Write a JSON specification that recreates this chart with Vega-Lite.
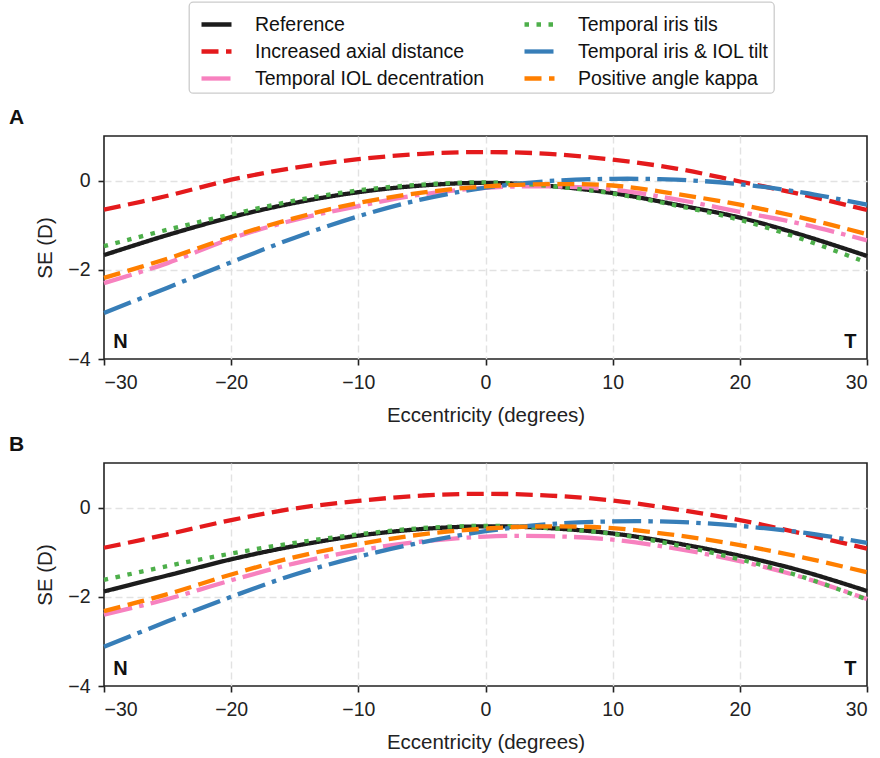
{
  "$schema": "https://vega.github.io/schema/vega-lite/v6.json",
  "background": "white",
  "padding": {"left": 8, "top": 1, "right": 12, "bottom": 5},
  "datasets": {
    "curves": [
      {"panel":"A","series":"Reference","x":-30,"y":-1.67},{"panel":"A","series":"Reference","x":-25,"y":-1.22},{"panel":"A","series":"Reference","x":-20,"y":-0.82},{"panel":"A","series":"Reference","x":-15,"y":-0.5},{"panel":"A","series":"Reference","x":-10,"y":-0.26},{"panel":"A","series":"Reference","x":-5,"y":-0.11},{"panel":"A","series":"Reference","x":0,"y":-0.05},{"panel":"A","series":"Reference","x":5,"y":-0.12},{"panel":"A","series":"Reference","x":10,"y":-0.28},{"panel":"A","series":"Reference","x":15,"y":-0.54},{"panel":"A","series":"Reference","x":20,"y":-0.83},{"panel":"A","series":"Reference","x":25,"y":-1.23},{"panel":"A","series":"Reference","x":30,"y":-1.69},
      {"panel":"A","series":"Increased axial distance","x":-30,"y":-0.65},{"panel":"A","series":"Increased axial distance","x":-25,"y":-0.34},{"panel":"A","series":"Increased axial distance","x":-20,"y":0.02},{"panel":"A","series":"Increased axial distance","x":-15,"y":0.29},{"panel":"A","series":"Increased axial distance","x":-10,"y":0.48},{"panel":"A","series":"Increased axial distance","x":-5,"y":0.6},{"panel":"A","series":"Increased axial distance","x":0,"y":0.64},{"panel":"A","series":"Increased axial distance","x":5,"y":0.6},{"panel":"A","series":"Increased axial distance","x":10,"y":0.47},{"panel":"A","series":"Increased axial distance","x":15,"y":0.27},{"panel":"A","series":"Increased axial distance","x":20,"y":-0.02},{"panel":"A","series":"Increased axial distance","x":25,"y":-0.32},{"panel":"A","series":"Increased axial distance","x":30,"y":-0.66},
      {"panel":"A","series":"Temporal IOL decentration","x":-30,"y":-2.3},{"panel":"A","series":"Temporal IOL decentration","x":-25,"y":-1.85},{"panel":"A","series":"Temporal IOL decentration","x":-20,"y":-1.3},{"panel":"A","series":"Temporal IOL decentration","x":-15,"y":-0.88},{"panel":"A","series":"Temporal IOL decentration","x":-10,"y":-0.57},{"panel":"A","series":"Temporal IOL decentration","x":-5,"y":-0.31},{"panel":"A","series":"Temporal IOL decentration","x":0,"y":-0.16},{"panel":"A","series":"Temporal IOL decentration","x":5,"y":-0.13},{"panel":"A","series":"Temporal IOL decentration","x":10,"y":-0.2},{"panel":"A","series":"Temporal IOL decentration","x":15,"y":-0.42},{"panel":"A","series":"Temporal IOL decentration","x":20,"y":-0.7},{"panel":"A","series":"Temporal IOL decentration","x":25,"y":-0.98},{"panel":"A","series":"Temporal IOL decentration","x":30,"y":-1.34},
      {"panel":"A","series":"Temporal iris tils","x":-30,"y":-1.47},{"panel":"A","series":"Temporal iris tils","x":-25,"y":-1.1},{"panel":"A","series":"Temporal iris tils","x":-20,"y":-0.76},{"panel":"A","series":"Temporal iris tils","x":-15,"y":-0.45},{"panel":"A","series":"Temporal iris tils","x":-10,"y":-0.22},{"panel":"A","series":"Temporal iris tils","x":-5,"y":-0.09},{"panel":"A","series":"Temporal iris tils","x":0,"y":-0.04},{"panel":"A","series":"Temporal iris tils","x":5,"y":-0.12},{"panel":"A","series":"Temporal iris tils","x":10,"y":-0.29},{"panel":"A","series":"Temporal iris tils","x":15,"y":-0.56},{"panel":"A","series":"Temporal iris tils","x":20,"y":-0.88},{"panel":"A","series":"Temporal iris tils","x":25,"y":-1.32},{"panel":"A","series":"Temporal iris tils","x":30,"y":-1.84},
      {"panel":"A","series":"Temporal iris & IOL tilt","x":-30,"y":-2.97},{"panel":"A","series":"Temporal iris & IOL tilt","x":-25,"y":-2.4},{"panel":"A","series":"Temporal iris & IOL tilt","x":-20,"y":-1.83},{"panel":"A","series":"Temporal iris & IOL tilt","x":-15,"y":-1.28},{"panel":"A","series":"Temporal iris & IOL tilt","x":-10,"y":-0.8},{"panel":"A","series":"Temporal iris & IOL tilt","x":-5,"y":-0.42},{"panel":"A","series":"Temporal iris & IOL tilt","x":0,"y":-0.16},{"panel":"A","series":"Temporal iris & IOL tilt","x":5,"y":-0.01},{"panel":"A","series":"Temporal iris & IOL tilt","x":10,"y":0.04},{"panel":"A","series":"Temporal iris & IOL tilt","x":15,"y":0.02},{"panel":"A","series":"Temporal iris & IOL tilt","x":20,"y":-0.08},{"panel":"A","series":"Temporal iris & IOL tilt","x":25,"y":-0.27},{"panel":"A","series":"Temporal iris & IOL tilt","x":30,"y":-0.54},
      {"panel":"A","series":"Positive angle kappa","x":-30,"y":-2.18},{"panel":"A","series":"Positive angle kappa","x":-25,"y":-1.75},{"panel":"A","series":"Positive angle kappa","x":-20,"y":-1.26},{"panel":"A","series":"Positive angle kappa","x":-15,"y":-0.84},{"panel":"A","series":"Positive angle kappa","x":-10,"y":-0.5},{"panel":"A","series":"Positive angle kappa","x":-5,"y":-0.27},{"panel":"A","series":"Positive angle kappa","x":0,"y":-0.13},{"panel":"A","series":"Positive angle kappa","x":5,"y":-0.08},{"panel":"A","series":"Positive angle kappa","x":10,"y":-0.11},{"panel":"A","series":"Positive angle kappa","x":15,"y":-0.3},{"panel":"A","series":"Positive angle kappa","x":20,"y":-0.54},{"panel":"A","series":"Positive angle kappa","x":25,"y":-0.84},{"panel":"A","series":"Positive angle kappa","x":30,"y":-1.2},
      {"panel":"B","series":"Reference","x":-30,"y":-1.88},{"panel":"B","series":"Reference","x":-25,"y":-1.52},{"panel":"B","series":"Reference","x":-20,"y":-1.16},{"panel":"B","series":"Reference","x":-15,"y":-0.86},{"panel":"B","series":"Reference","x":-10,"y":-0.63},{"panel":"B","series":"Reference","x":-5,"y":-0.48},{"panel":"B","series":"Reference","x":0,"y":-0.42},{"panel":"B","series":"Reference","x":5,"y":-0.46},{"panel":"B","series":"Reference","x":10,"y":-0.58},{"panel":"B","series":"Reference","x":15,"y":-0.8},{"panel":"B","series":"Reference","x":20,"y":-1.08},{"panel":"B","series":"Reference","x":25,"y":-1.43},{"panel":"B","series":"Reference","x":30,"y":-1.87},
      {"panel":"B","series":"Increased axial distance","x":-30,"y":-0.9},{"panel":"B","series":"Increased axial distance","x":-25,"y":-0.6},{"panel":"B","series":"Increased axial distance","x":-20,"y":-0.28},{"panel":"B","series":"Increased axial distance","x":-15,"y":-0.02},{"panel":"B","series":"Increased axial distance","x":-10,"y":0.15},{"panel":"B","series":"Increased axial distance","x":-5,"y":0.27},{"panel":"B","series":"Increased axial distance","x":0,"y":0.31},{"panel":"B","series":"Increased axial distance","x":5,"y":0.27},{"panel":"B","series":"Increased axial distance","x":10,"y":0.16},{"panel":"B","series":"Increased axial distance","x":15,"y":-0.04},{"panel":"B","series":"Increased axial distance","x":20,"y":-0.28},{"panel":"B","series":"Increased axial distance","x":25,"y":-0.59},{"panel":"B","series":"Increased axial distance","x":30,"y":-0.92},
      {"panel":"B","series":"Temporal IOL decentration","x":-30,"y":-2.4},{"panel":"B","series":"Temporal IOL decentration","x":-25,"y":-2.05},{"panel":"B","series":"Temporal IOL decentration","x":-20,"y":-1.63},{"panel":"B","series":"Temporal IOL decentration","x":-15,"y":-1.25},{"panel":"B","series":"Temporal IOL decentration","x":-10,"y":-0.96},{"panel":"B","series":"Temporal IOL decentration","x":-5,"y":-0.76},{"panel":"B","series":"Temporal IOL decentration","x":0,"y":-0.65},{"panel":"B","series":"Temporal IOL decentration","x":5,"y":-0.64},{"panel":"B","series":"Temporal IOL decentration","x":10,"y":-0.72},{"panel":"B","series":"Temporal IOL decentration","x":15,"y":-0.92},{"panel":"B","series":"Temporal IOL decentration","x":20,"y":-1.2},{"panel":"B","series":"Temporal IOL decentration","x":25,"y":-1.57},{"panel":"B","series":"Temporal IOL decentration","x":30,"y":-2.05},
      {"panel":"B","series":"Temporal iris tils","x":-30,"y":-1.62},{"panel":"B","series":"Temporal iris tils","x":-25,"y":-1.31},{"panel":"B","series":"Temporal iris tils","x":-20,"y":-1.03},{"panel":"B","series":"Temporal iris tils","x":-15,"y":-0.79},{"panel":"B","series":"Temporal iris tils","x":-10,"y":-0.6},{"panel":"B","series":"Temporal iris tils","x":-5,"y":-0.46},{"panel":"B","series":"Temporal iris tils","x":0,"y":-0.41},{"panel":"B","series":"Temporal iris tils","x":5,"y":-0.46},{"panel":"B","series":"Temporal iris tils","x":10,"y":-0.59},{"panel":"B","series":"Temporal iris tils","x":15,"y":-0.84},{"panel":"B","series":"Temporal iris tils","x":20,"y":-1.16},{"panel":"B","series":"Temporal iris tils","x":25,"y":-1.56},{"panel":"B","series":"Temporal iris tils","x":30,"y":-2.06},
      {"panel":"B","series":"Temporal iris & IOL tilt","x":-30,"y":-3.12},{"panel":"B","series":"Temporal iris & IOL tilt","x":-25,"y":-2.55},{"panel":"B","series":"Temporal iris & IOL tilt","x":-20,"y":-2.0},{"panel":"B","series":"Temporal iris & IOL tilt","x":-15,"y":-1.5},{"panel":"B","series":"Temporal iris & IOL tilt","x":-10,"y":-1.1},{"panel":"B","series":"Temporal iris & IOL tilt","x":-5,"y":-0.78},{"panel":"B","series":"Temporal iris & IOL tilt","x":0,"y":-0.53},{"panel":"B","series":"Temporal iris & IOL tilt","x":5,"y":-0.37},{"panel":"B","series":"Temporal iris & IOL tilt","x":10,"y":-0.31},{"panel":"B","series":"Temporal iris & IOL tilt","x":15,"y":-0.32},{"panel":"B","series":"Temporal iris & IOL tilt","x":20,"y":-0.41},{"panel":"B","series":"Temporal iris & IOL tilt","x":25,"y":-0.56},{"panel":"B","series":"Temporal iris & IOL tilt","x":30,"y":-0.79},
      {"panel":"B","series":"Positive angle kappa","x":-30,"y":-2.32},{"panel":"B","series":"Positive angle kappa","x":-25,"y":-1.94},{"panel":"B","series":"Positive angle kappa","x":-20,"y":-1.5},{"panel":"B","series":"Positive angle kappa","x":-15,"y":-1.11},{"panel":"B","series":"Positive angle kappa","x":-10,"y":-0.82},{"panel":"B","series":"Positive angle kappa","x":-5,"y":-0.6},{"panel":"B","series":"Positive angle kappa","x":0,"y":-0.47},{"panel":"B","series":"Positive angle kappa","x":5,"y":-0.42},{"panel":"B","series":"Positive angle kappa","x":10,"y":-0.46},{"panel":"B","series":"Positive angle kappa","x":15,"y":-0.62},{"panel":"B","series":"Positive angle kappa","x":20,"y":-0.84},{"panel":"B","series":"Positive angle kappa","x":25,"y":-1.12},{"panel":"B","series":"Positive angle kappa","x":30,"y":-1.45}
    ],
    "corners": [
      {"panel":"A","x":-28.7,"y":-3.76,"label":"N"},{"panel":"A","x":28.7,"y":-3.76,"label":"T"},
      {"panel":"B","x":-28.7,"y":-3.76,"label":"N"},{"panel":"B","x":28.7,"y":-3.76,"label":"T"}
    ]
  },
  "vconcat": [
    {
      "width": 763, "height": 223,
      "title": {"text": "A", "dx": -95, "offset": 8},
      "layer": [
        {
          "data": {"name": "curves"},
          "transform": [{"filter": "datum.panel === 'A'"}],
          "mark": {"type": "line", "strokeWidth": 4.3, "interpolate": "catmull-rom", "strokeCap": "butt"},
          "encoding": {
            "x": {"field": "x", "type": "quantitative", "scale": {"domain": [-30, 30], "nice": false}, "axis": {"title": "Eccentricity (degrees)", "values": [-30, -20, -10, 0, 10, 20, 30], "gridOpacity": {"condition": {"test": "abs(datum.value) === 30", "value": 0}, "value": 1}}},
            "y": {"field": "y", "type": "quantitative", "scale": {"domain": [-4, 1], "nice": false}, "axis": {"title": "SE (D)", "values": [-4, -2, 0], "gridOpacity": {"condition": {"test": "datum.value === -4", "value": 0}, "value": 1}}},
            "color": {"field": "series", "type": "nominal", "title": null,
              "scale": {"domain": ["Reference", "Increased axial distance", "Temporal IOL decentration", "Temporal iris tils", "Temporal iris & IOL tilt", "Positive angle kappa"],
                        "range": ["#1c1c1c", "#e41a1c", "#f781bf", "#4daf4a", "#377eb8", "#ff7f00"]}},
            "strokeDash": {"field": "series", "type": "nominal", "title": null,
              "scale": {"domain": ["Reference", "Increased axial distance", "Temporal IOL decentration", "Temporal iris tils", "Temporal iris & IOL tilt", "Positive angle kappa"],
                        "range": [[1, 0], [17, 7.5], [29, 7.2, 4.5, 7.2], [4.5, 7.5], [29, 7.2, 4.5, 7.2], [17, 7.5]]}}
          }
        },
        {
          "data": {"name": "corners"},
          "transform": [{"filter": "datum.panel === 'A'"}],
          "mark": {"type": "text", "fontWeight": "bold", "fontSize": 20, "baseline": "alphabetic", "align": "center", "color": "#111"},
          "encoding": {
            "x": {"field": "x", "type": "quantitative"},
            "y": {"field": "y", "type": "quantitative"},
            "text": {"field": "label"}
          }
        }
      ]
    },
    {
      "width": 763, "height": 223,
      "title": {"text": "B", "dx": -95, "offset": 8},
      "layer": [
        {
          "data": {"name": "curves"},
          "transform": [{"filter": "datum.panel === 'B'"}],
          "mark": {"type": "line", "strokeWidth": 4.3, "interpolate": "catmull-rom", "strokeCap": "butt"},
          "encoding": {
            "x": {"field": "x", "type": "quantitative", "scale": {"domain": [-30, 30], "nice": false}, "axis": {"title": "Eccentricity (degrees)", "values": [-30, -20, -10, 0, 10, 20, 30], "gridOpacity": {"condition": {"test": "abs(datum.value) === 30", "value": 0}, "value": 1}}},
            "y": {"field": "y", "type": "quantitative", "scale": {"domain": [-4, 1], "nice": false}, "axis": {"title": "SE (D)", "values": [-4, -2, 0], "gridOpacity": {"condition": {"test": "datum.value === -4", "value": 0}, "value": 1}}},
            "color": {"field": "series", "type": "nominal", "title": null,
              "scale": {"domain": ["Reference", "Increased axial distance", "Temporal IOL decentration", "Temporal iris tils", "Temporal iris & IOL tilt", "Positive angle kappa"],
                        "range": ["#1c1c1c", "#e41a1c", "#f781bf", "#4daf4a", "#377eb8", "#ff7f00"]}},
            "strokeDash": {"field": "series", "type": "nominal", "title": null,
              "scale": {"domain": ["Reference", "Increased axial distance", "Temporal IOL decentration", "Temporal iris tils", "Temporal iris & IOL tilt", "Positive angle kappa"],
                        "range": [[1, 0], [17, 7.5], [29, 7.2, 4.5, 7.2], [4.5, 7.5], [29, 7.2, 4.5, 7.2], [17, 7.5]]}}
          }
        },
        {
          "data": {"name": "corners"},
          "transform": [{"filter": "datum.panel === 'B'"}],
          "mark": {"type": "text", "fontWeight": "bold", "fontSize": 20, "baseline": "alphabetic", "align": "center", "color": "#111"},
          "encoding": {
            "x": {"field": "x", "type": "quantitative"},
            "y": {"field": "y", "type": "quantitative"},
            "text": {"field": "label"}
          }
        }
      ]
    }
  ],
  "spacing": 6,
  "resolve": {"scale": {"color": "shared", "strokeDash": "shared"}, "legend": {"color": "shared", "strokeDash": "shared"}},
  "config": {
    "font": "Liberation Sans",
    "view": {"stroke": "#222222", "strokeWidth": 1.6},
    "axis": {"labelFontSize": 19.5, "titleFontSize": 20.5, "titleFontWeight": "normal", "labelColor": "#222", "titleColor": "#222", "tickColor": "#222", "tickSize": 6, "tickWidth": 1.6, "domain": false, "grid": true, "gridColor": "#e2e2e2", "gridDash": [7, 4], "gridWidth": 1.4, "labelPadding": 8},
    "axisX": {"titlePadding": 14},
    "axisY": {"titlePadding": 12},
    "title": {"fontSize": 21, "fontWeight": "bold", "anchor": "start", "frame": "group", "color": "#111"},
    "legend": {
      "orient": "none", "legendX": 85, "legendY": -134, "columns": 2,
      "symbolType": "stroke", "symbolSize": 900, "symbolStrokeWidth": 4.3, "symbolOffset": 5,
      "labelFontSize": 19.5, "labelColor": "#111", "labelOffset": 21, "labelLimit": 400,
      "columnPadding": 30, "rowPadding": -4, "padding": 5,
      "strokeColor": "#cccccc", "strokeWidth": 1.3, "cornerRadius": 4, "fillColor": "white"
    }
  }
}
